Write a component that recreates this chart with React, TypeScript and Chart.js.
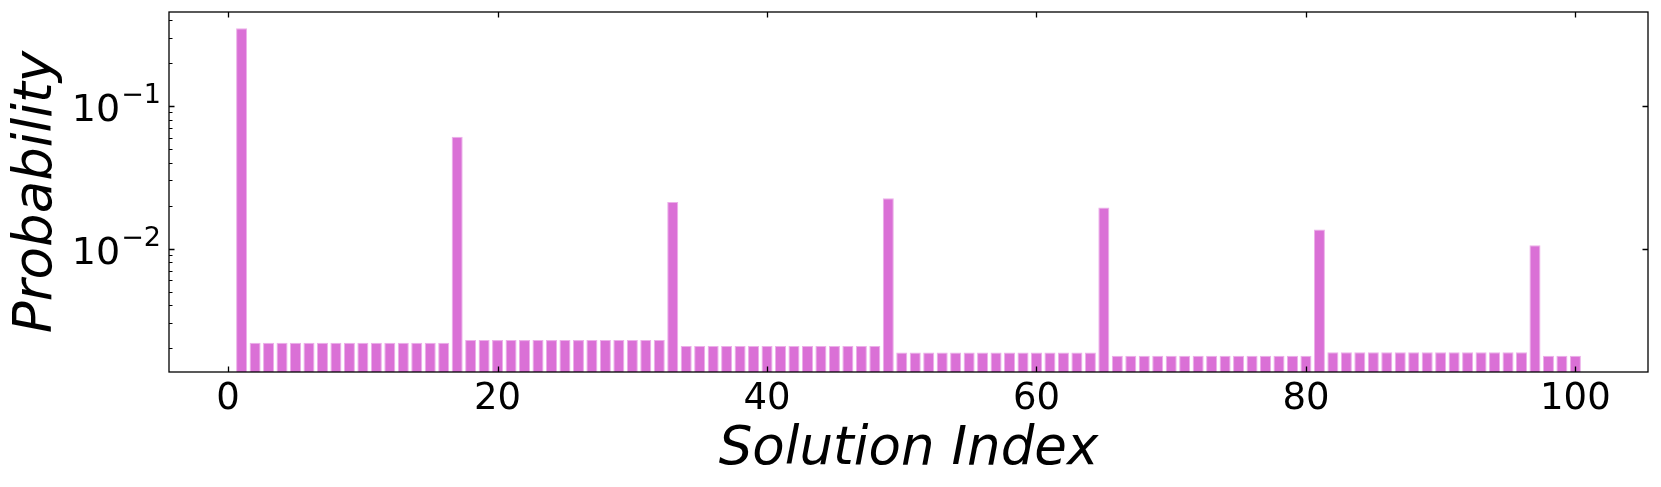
import React, { useEffect, useRef } from 'react';
import { Chart, registerables } from 'chart.js';

Chart.register(...registerables);

// Solution indices (x) and their probabilities (y, log scale)
const solutionIndex: number[] = [
  1, 2, 3, 4, 5, 6, 7, 8, 9, 10,
  11, 12, 13, 14, 15, 16, 17, 18, 19, 20,
  21, 22, 23, 24, 25, 26, 27, 28, 29, 30,
  31, 32, 33, 34, 35, 36, 37, 38, 39, 40,
  41, 42, 43, 44, 45, 46, 47, 48, 49, 50,
  51, 52, 53, 54, 55, 56, 57, 58, 59, 60,
  61, 62, 63, 64, 65, 66, 67, 68, 69, 70,
  71, 72, 73, 74, 75, 76, 77, 78, 79, 80,
  81, 82, 83, 84, 85, 86, 87, 88, 89, 90,
  91, 92, 93, 94, 95, 96, 97, 98, 99, 100,
];

const probability: number[] = [
  0.349, 0.00219, 0.00219, 0.00219, 0.00219, 0.00219, 0.00219, 0.00219, 0.00219, 0.00219,
  0.00219, 0.00219, 0.00219, 0.00219, 0.00219, 0.00219, 0.0607, 0.00229, 0.00229, 0.00229,
  0.00229, 0.00229, 0.00229, 0.00229, 0.00229, 0.00229, 0.00229, 0.00229, 0.00229, 0.00229,
  0.00229, 0.00229, 0.0212, 0.00208, 0.00208, 0.00208, 0.00208, 0.00208, 0.00208, 0.00208,
  0.00208, 0.00208, 0.00208, 0.00208, 0.00208, 0.00208, 0.00208, 0.00208, 0.0225, 0.001875,
  0.001875, 0.001875, 0.001875, 0.001875, 0.001875, 0.001875, 0.001875, 0.001875, 0.001875, 0.001875,
  0.001875, 0.001875, 0.001875, 0.001875, 0.0194, 0.00178, 0.00178, 0.00178, 0.00178, 0.00178,
  0.00178, 0.00178, 0.00178, 0.00178, 0.00178, 0.00178, 0.00178, 0.00178, 0.00178, 0.00178,
  0.0136, 0.00188, 0.00188, 0.00188, 0.00188, 0.00188, 0.00188, 0.00188, 0.00188, 0.00188,
  0.00188, 0.00188, 0.00188, 0.00188, 0.00188, 0.00188, 0.01055, 0.00178, 0.00178, 0.00178,
];

const xTicks: number[] = [0, 20, 40, 60, 80, 100];
const yMajorTicks: number[] = [0.01, 0.1];
const yMajorBase: string[] = ['10', '10'];
const yMajorExponent: string[] = ['\u22122', '\u22121'];
const yMinorTicks: number[] = [
  0.002, 0.003, 0.004, 0.005, 0.006, 0.007, 0.008, 0.009,
  0.02, 0.03, 0.04, 0.05, 0.06, 0.07, 0.08, 0.09,
  0.2, 0.3, 0.4,
];

const X_MIN = -4.39;
const X_MAX = 105.39;
const Y_MIN = 0.001368;
const Y_MAX = 0.454;

const xTitle = 'Solution Index';
const yTitle = 'Probability';

const FONT = '"DejaVu Sans", "Liberation Sans", sans-serif';

const decorPlugin = {
  id: 'decor',
  afterDraw(chart: any) {
    const { ctx, chartArea: a, scales } = chart;
    const xs = scales.x;
    const ys = scales.y;
    ctx.save();
    ctx.strokeStyle = '#000';
    ctx.lineWidth = 1.3;
    ctx.beginPath();
    for (const t of xTicks) {
      const px = Math.round(xs.getPixelForValue(t)) + 0.5;
      ctx.moveTo(px, a.bottom);
      ctx.lineTo(px, a.bottom - 5.5);
      ctx.moveTo(px, a.top);
      ctx.lineTo(px, a.top + 5.5);
    }
    for (const t of yMajorTicks) {
      const py = Math.round(ys.getPixelForValue(t)) + 0.5;
      ctx.moveTo(a.left, py);
      ctx.lineTo(a.left + 5.5, py);
      ctx.moveTo(a.right, py);
      ctx.lineTo(a.right - 5.5, py);
    }
    ctx.stroke();
    ctx.lineWidth = 1;
    ctx.beginPath();
    for (const t of yMinorTicks) {
      if (t < Y_MIN || t > Y_MAX) continue;
      const py = Math.round(ys.getPixelForValue(t)) + 0.5;
      ctx.moveTo(a.left, py);
      ctx.lineTo(a.left + 3.5, py);
    }
    ctx.stroke();
    ctx.lineWidth = 1.3;
    ctx.strokeRect(a.left, a.top, a.right - a.left, a.bottom - a.top);

    ctx.fillStyle = '#000';
    // x tick labels
    ctx.font = `37px ${FONT}`;
    ctx.textAlign = 'center';
    ctx.textBaseline = 'alphabetic';
    for (const t of xTicks) {
      ctx.fillText(String(t), xs.getPixelForValue(t), a.bottom + 36.5);
    }
    // y tick labels: base with superscript exponent
    yMajorTicks.forEach((t, i) => {
      const py = ys.getPixelForValue(t);
      ctx.font = `27px ${FONT}`;
      const ew = ctx.measureText(yMajorExponent[i]).width;
      ctx.font = `38px ${FONT}`;
      const bw = ctx.measureText(yMajorBase[i]).width;
      const right = a.left - 8;
      ctx.textAlign = 'left';
      ctx.fillText(yMajorBase[i], right - ew - bw - 1, py + 15);
      ctx.font = `27px ${FONT}`;
      ctx.fillText(yMajorExponent[i], right - ew, py - 3);
    });
    // axis titles
    ctx.font = `italic 53px ${FONT}`;
    ctx.textAlign = 'center';
    ctx.fillText(xTitle, (a.left + a.right) / 2, 464);
    ctx.save();
    ctx.translate(51, (a.top + a.bottom) / 2);
    ctx.rotate(-Math.PI / 2);
    ctx.fillText(yTitle, 0, 0);
    ctx.restore();
    ctx.restore();
  },
};

export default function App() {
  const canvasRef = useRef<HTMLCanvasElement | null>(null);

  useEffect(() => {
    document.body.style.margin = '0';
    const canvas = canvasRef.current;
    if (!canvas) return;
    const chart = new Chart(canvas, {
      type: 'bar',
      data: {
        datasets: [
          {
            label: 'Probability',
            data: solutionIndex.map((x, i) => ({ x, y: probability[i] })),
            backgroundColor: '#DA70D6',
            borderColor: '#ECAFE9',
            borderWidth: 1,
            barPercentage: 0.82,
            categoryPercentage: 1.0,
          },
        ],
      },
      options: {
        responsive: false,
        devicePixelRatio: 1,
        animation: false,
        layout: { padding: { left: 169, right: 13, top: 12, bottom: 115 } },
        plugins: { legend: { display: false }, tooltip: { enabled: false } },
        scales: {
          x: { type: 'linear', min: X_MIN, max: X_MAX, offset: false, display: false },
          y: { type: 'logarithmic', min: Y_MIN, max: Y_MAX, display: false },
        },
      },
      plugins: [decorPlugin],
    });
    return () => chart.destroy();
  }, []);

  return (
    <canvas
      ref={canvasRef}
      width={1661}
      height={487}
      style={{ display: 'block', width: '1661px', height: '487px' }}
    />
  );
}
